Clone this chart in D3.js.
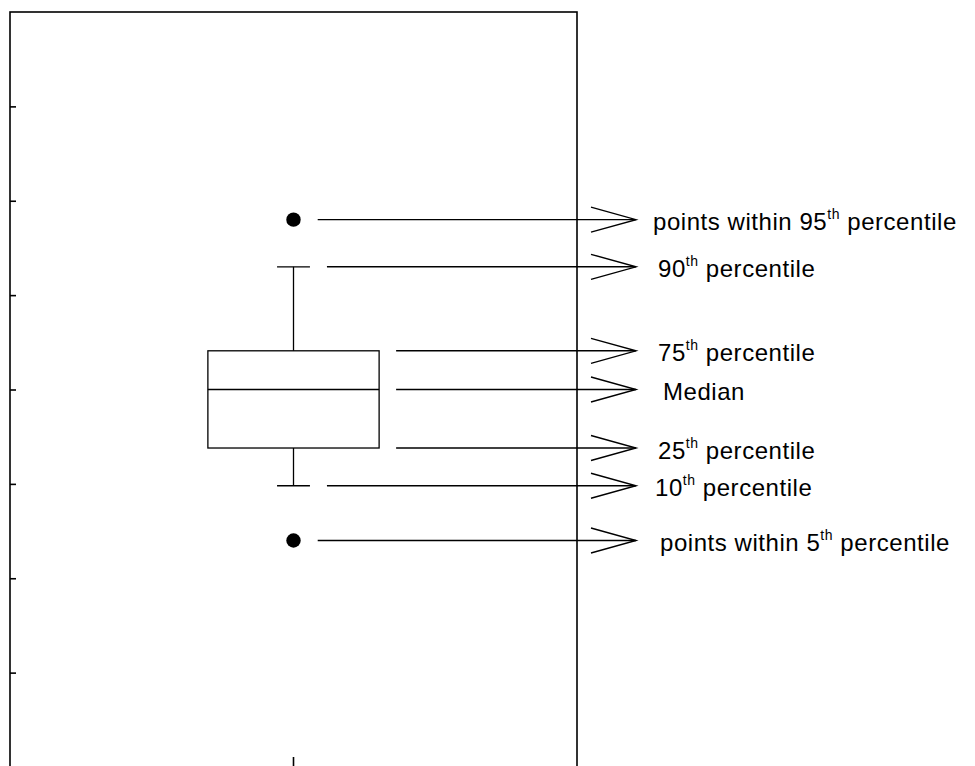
<!DOCTYPE html>
<html>
<head>
<meta charset="utf-8">
<script src="https://cdn.jsdelivr.net/npm/d3@7"></script>
<style>
  html, body { margin: 0; padding: 0; background: #fff; }
  svg { display: block; }
  text { font-family: "Liberation Sans", Arial, sans-serif; fill: #000; }
</style>
</head>
<body>
<svg id="chart" width="975" height="766"></svg>
<script>
// ---- data ----
const categories = ["Sample"];
const yTicks = [1, 2, 3, 4, 5, 6, 7];
// schematic box statistics (y units)
const upperPoint = 5.8;   // point within 95th percentile
const p90 = 5.3;
const p75 = 4.41;
const median = 4.0;
const p25 = 3.38;
const p10 = 2.98;
const lowerPoint = 2.4;   // point within 5th percentile
// annotation labels (prefix, superscript, suffix)
const labelPrefix = ["points within 95", "90", "75", "Median", "25", "10", "points within 5"];
const labelSup    = ["th", "th", "th", "", "th", "th", "th"];
const labelSuffix = [" percentile", " percentile", " percentile", "", " percentile", " percentile", " percentile"];
const labelValues = [upperPoint, p90, p75, median, p25, p10, lowerPoint];
const labelKinds  = ["point", "cap", "box", "box", "box", "cap", "point"];

// ---- layout ----
const svg = d3.select("#chart");
const mLeft = 10, mRight = 577, mTop = 12, mBottom = 767;
const labelDx = [17, 22, 22, 27, 22, 19, 24];

const x = d3.scaleBand().domain(categories).range([mLeft, mRight]);
const y = d3.scaleLinear().domain([0, 8]).range([mBottom, mTop]);

const cx = x(categories[0]) + x.bandwidth() / 2;
const boxHalf = x.bandwidth() * 0.151;
const capHalf = x.bandwidth() * 0.029;
const dotR = 7.2;

// y axis ticks (inward)
const yAxis = d3.axisRight(y).tickValues(yTicks).tickSize(6).tickFormat("");
const gy = svg.append("g").attr("transform", `translate(${mLeft},0)`).call(yAxis);
gy.select(".domain").remove();
gy.selectAll(".tick line").attr("stroke", "#000").attr("stroke-width", 1.6);

// x axis tick (inward)
const xAxis = d3.axisTop(x).tickSize(10).tickFormat("");
const gx = svg.append("g").attr("transform", `translate(0,${mBottom})`).call(xAxis);
gx.select(".domain").remove();
gx.selectAll(".tick line").attr("stroke", "#000").attr("stroke-width", 1.6);

// frame
svg.append("rect")
  .attr("x", mLeft).attr("y", mTop)
  .attr("width", mRight - mLeft).attr("height", mBottom - mTop)
  .attr("fill", "none").attr("stroke", "#000").attr("stroke-width", 1.6);

// box plot
const g = svg.append("g").attr("stroke", "#000").attr("stroke-width", 1.3).attr("fill", "none");
g.append("rect")
  .attr("x", cx - boxHalf).attr("y", y(p75))
  .attr("width", boxHalf * 2).attr("height", y(p25) - y(p75));
g.append("line").attr("x1", cx - boxHalf).attr("x2", cx + boxHalf).attr("y1", y(median)).attr("y2", y(median));
g.append("line").attr("x1", cx).attr("x2", cx).attr("y1", y(p75)).attr("y2", y(p90));
g.append("line").attr("x1", cx).attr("x2", cx).attr("y1", y(p25)).attr("y2", y(p10));
g.append("line").attr("x1", cx - capHalf).attr("x2", cx + capHalf).attr("y1", y(p90)).attr("y2", y(p90));
g.append("line").attr("x1", cx - capHalf).attr("x2", cx + capHalf).attr("y1", y(p10)).attr("y2", y(p10));
svg.selectAll("circle.pt").data([upperPoint, lowerPoint]).join("circle")
  .attr("class", "pt").attr("cx", cx).attr("cy", d => y(d)).attr("r", dotR).attr("fill", "#000");

// annotations: arrows + labels
const gap = 17;
const tipX = mRight + 59;
const headLen = 45, headHalf = 12.5;
const startX = k => k === "point" ? cx + dotR + gap : k === "cap" ? cx + capHalf + gap : cx + boxHalf + gap;

const ann = svg.append("g").selectAll("g").data(labelValues.map((v, i) => ({v, i}))).join("g");
ann.append("line")
  .attr("x1", d => startX(labelKinds[d.i])).attr("x2", tipX)
  .attr("y1", d => y(d.v)).attr("y2", d => y(d.v))
  .attr("stroke", "#000").attr("stroke-width", 1.4);
ann.append("path")
  .attr("d", d => {
    const yy = y(d.v);
    return `M${tipX - headLen},${yy - headHalf}L${tipX},${yy}L${tipX - headLen},${yy + headHalf}`;
  })
  .attr("fill", "none").attr("stroke", "#000").attr("stroke-width", 1.4);

const txt = ann.append("text")
  .attr("x", d => tipX + labelDx[d.i])
  .attr("y", d => y(d.v) + 10.5)
  .attr("font-size", 24)
  .attr("letter-spacing", 0.55);
txt.append("tspan").text(d => labelPrefix[d.i]);
txt.append("tspan").attr("font-size", 14).attr("dy", -11).text(d => labelSup[d.i]);
txt.append("tspan").attr("dy", 11).text(d => labelSuffix[d.i]);
</script>
</body>
</html>
